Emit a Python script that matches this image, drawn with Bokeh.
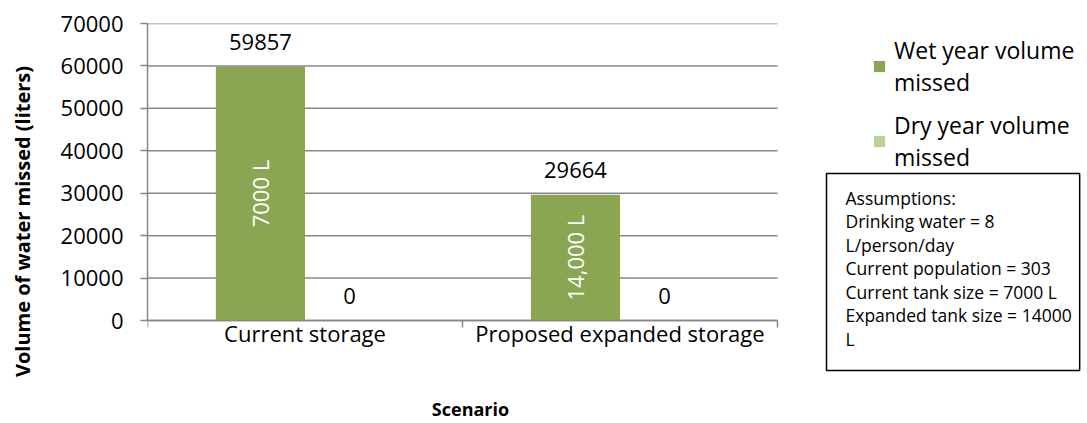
from bokeh.plotting import figure
from bokeh.models import (Range1d, FixedTicker, ColumnDataSource,
                          LabelSet, Legend, LegendItem, Label)
from bokeh.transform import dodge
from bokeh.core.properties import value
from bokeh.embed import file_html
from bokeh.resources import INLINE

# ---- data ----
categories = ["Current storage", "Proposed expanded storage"]
wet_missed = [59857, 29664]
dry_missed = [0, 0]
tank_labels = ["7000 L", "14,000 L"]
y_ticks = [0, 10000, 20000, 30000, 40000, 50000, 60000, 70000]
series_names = ["Wet year volume\nmissed", "Dry year volume\nmissed"]
x_title = "Scenario"
y_title = "Volume of water missed (liters)"
assumptions = ["Assumptions:", "Drinking water = 8", "L/person/day",
               "Current population = 303", "Current tank size = 7000 L",
               "Expanded tank size = 14000", "L"]

WET = "#8BA652"
DRY = "#BCD19A"
GRID = "#878787"
FONT = "Open Sans"

# ---- layout (pixels) ----
W, H = 1084, 421
BORDER_L, BORDER_R, BORDER_T, BORDER_B = 147, 3, 23, 2
FRAME_W = W - BORDER_L - BORDER_R
FRAME_H = H - BORDER_T - BORDER_B
CHART_W, CHART_H = 630, 297          # part of the frame used by the bars
Y_MAX = 70000

n = len(categories)
centres = [i + 0.5 for i in range(n)]          # category centres on a 0..n axis
x_end = n * FRAME_W / CHART_W
y_start = -Y_MAX * (FRAME_H - CHART_H) / CHART_H

src = ColumnDataSource(dict(
    pos=centres,
    wet=wet_missed,
    dry=dry_missed,
    wet_txt=[str(v) for v in wet_missed],
    dry_txt=[str(v) for v in dry_missed],
    mid=[v / 2 for v in wet_missed],
    tank=tank_labels,
))

p = figure(x_range=Range1d(0, x_end), y_range=Range1d(y_start, Y_MAX),
           width=W, height=H,
           min_border_left=BORDER_L, min_border_right=BORDER_R,
           min_border_top=BORDER_T, min_border_bottom=BORDER_B,
           output_backend="svg", toolbar_location=None,
           background_fill_color="white", border_fill_color="white")
p.outline_line_color = None
p.grid.visible = False

# horizontal gridlines over the category area only
p.segment(x0=0, x1=n, y0=y_ticks, y1=y_ticks, line_color=GRID, line_width=1.5)

bw = 0.283
r_wet = p.vbar(x=dodge("pos", -bw / 2), top="wet", width=bw, source=src,
               fill_color=WET, line_color=None)
r_dry = p.vbar(x=dodge("pos", bw / 2), top="dry", width=bw, source=src,
               fill_color=DRY, line_color=None)

# y axis
ya = p.yaxis[0]
ya.bounds = (0, Y_MAX)
ya.ticker = FixedTicker(ticks=y_ticks)
ya.axis_line_color = GRID
ya.axis_line_width = 1.5
ya.major_tick_line_color = GRID
ya.major_tick_line_width = 1.5
ya.major_tick_out = 7
ya.major_tick_in = 0
ya.minor_tick_line_color = None
ya.major_label_standoff = 17
ya.major_label_text_font = FONT
ya.major_label_text_font_size = "22px"
ya.major_label_text_color = "black"
ya.axis_label = y_title
ya.axis_label_text_font = FONT
ya.axis_label_text_font_style = "bold"
ya.axis_label_text_font_size = "20px"
ya.axis_label_text_color = "black"
ya.axis_label_standoff = 22

# x axis at y = 0: category labels at centres, tick marks at category boundaries
xa = p.xaxis[0]
xa.fixed_location = 0
xa.bounds = (0, n)
xa.ticker = FixedTicker(ticks=centres, minor_ticks=[float(i) for i in range(n + 1)])
xa.major_label_overrides = {c: name for c, name in zip(centres, categories)}
xa.axis_line_color = GRID
xa.axis_line_width = 1.5
xa.major_tick_line_color = None
xa.major_tick_out = 0
xa.major_tick_in = 0
xa.minor_tick_line_color = GRID
xa.minor_tick_line_width = 1.5
xa.minor_tick_out = 7
xa.minor_tick_in = 0
xa.major_label_standoff = -10
xa.major_label_text_font = FONT
xa.major_label_text_font_size = "22px"
xa.major_label_text_color = "black"

# x-axis title, centred under the category area
p.add_layout(Label(x=n / 2, y=0, x_offset=8, y_offset=-88, text=x_title,
                   text_font=FONT, text_font_style="bold", text_font_size="18px",
                   text_color="black", text_align="center", text_baseline="alphabetic"))

# data labels
lbl_kw = dict(text_font=value(FONT), text_font_size="22px", text_color="black",
              text_align="center", text_baseline="bottom", y_offset=17, source=src)
p.add_layout(LabelSet(x=dodge("pos", -bw / 2), y="wet", text="wet_txt", **lbl_kw))
p.add_layout(LabelSet(x=dodge("pos", bw / 2), y="dry", text="dry_txt", **lbl_kw))
p.add_layout(LabelSet(x=dodge("pos", -bw / 2), y="mid", text="tank", source=src,
                      angle=1.5708, text_font=value(FONT), text_font_size="22px",
                      text_color="white", text_align="center", text_baseline="middle"))

# legend (inside the wide frame, right of the bars)
legend = Legend(items=[LegendItem(label=series_names[0], renderers=[r_wet]),
                       LegendItem(label=series_names[1], renderers=[r_dry])],
                location=(725, 246), orientation="vertical",
                glyph_width=14, glyph_height=14, label_standoff=8, spacing=11,
                padding=0, margin=0, border_line_color=None, background_fill_alpha=0,
                label_text_font=FONT, label_text_font_size="23px", label_text_color="black")
p.add_layout(legend, "center")

# assumptions box
p.add_layout(Label(x=679, y=246, x_units="screen", y_units="screen",
                   text="\n".join(assumptions), text_font=FONT, text_font_size="17.5px",
                   text_color="black", text_align="left", text_baseline="top",
                   text_line_height=0.98,
                   border_line_color="black", border_line_width=1.5,
                   background_fill_color="white",
                   padding=dict(left=19, right=8, top=12, bottom=20)))

open("out.html", "w").write(file_html(p, INLINE))
